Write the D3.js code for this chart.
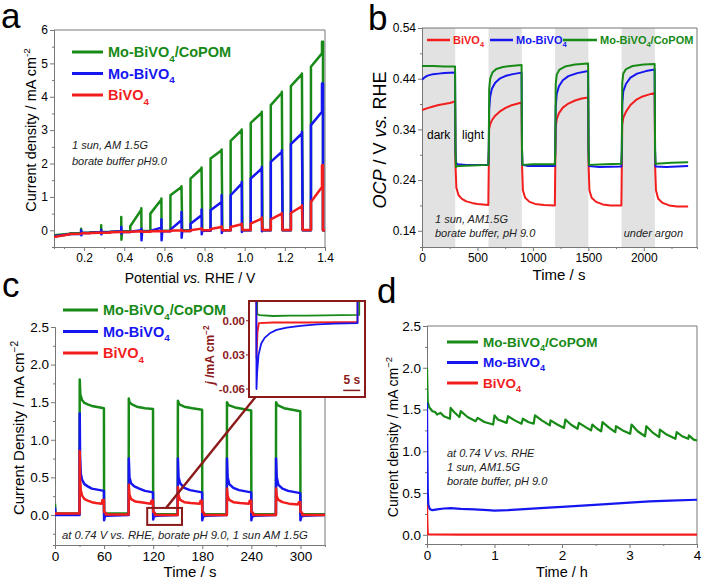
<!DOCTYPE html>
<html>
<head>
<meta charset="utf-8">
<script src="https://cdn.jsdelivr.net/npm/d3@7"></script>
<style>
body{margin:0;background:#fff;}
svg{font-family:"Liberation Sans",Arial,sans-serif;}
</style>
</head>
<body>
<svg id="fig" width="702" height="582"></svg>
<script>
// ---------- panel a : chopped LSV ----------
var aOn  = [0.13,0.23,0.33,0.43,0.53,0.63,0.73,0.83,0.93,1.03,1.13,1.23,1.33];
var aOff = [0.185,0.285,0.385,0.485,0.585,0.685,0.785,0.885,0.985,1.085,1.185,1.285,1.385];
var aEnd = 1.39;
var aGreenBase  = [-0.1,-0.07,-0.05,-0.03,-0.02,-0.01,0,0,0,0,0,0,0];
var aGreenOn    = [-0.09,-0.06,-0.04,0.12,0.5,1.05,1.55,2.15,2.68,3.22,3.75,4.32,4.9];
var aGreenOff   = [-0.08,-0.05,-0.03,0.62,0.92,1.3,1.85,2.4,3.0,3.52,4.12,4.68,5.3];
var aGreenSpike = [0.05,0.15,0.4,0.66,0.95,1.32,1.88,2.42,3.02,3.55,4.15,4.7,5.65];
var aGreenDip   = [-0.12,-0.1,-0.28,-0.1,-0.05,0,0,0,0,0,0,0,0];
var aBlueBase   = [-0.12,-0.08,-0.06,-0.05,-0.04,-0.03,-0.02,-0.01,0,0,0,0,0];
var aBlueOn     = [-0.11,-0.07,-0.05,-0.04,-0.02,0.02,0.2,0.6,1.05,1.55,2.05,2.58,3.15];
var aBlueOff    = [-0.1,-0.06,-0.03,0.0,0.08,0.3,0.45,0.85,1.4,1.85,2.35,2.9,3.55];
var aBlueSpike  = [0.0,0.02,0.1,0.05,0.33,0.55,0.62,1.05,1.45,1.9,2.4,2.95,4.4];
var aBlueDip    = [-0.15,-0.12,-0.1,-0.3,-0.3,-0.22,-0.12,-0.08,-0.05,-0.03,0,0,0];
var aRedBase    = [-0.12,-0.09,-0.07,-0.05,-0.04,-0.03,-0.02,0,0,0.01,0.01,0.01,0.01];
var aRedOn      = [-0.11,-0.08,-0.06,-0.04,-0.03,-0.01,0.0,0.04,0.1,0.2,0.33,0.52,0.85];
var aRedOff     = [-0.1,-0.07,-0.05,-0.03,-0.02,0.0,0.05,0.1,0.18,0.35,0.5,0.72,1.3];
var aRedSpike   = [-0.1,-0.07,-0.05,-0.03,-0.02,0.02,0.06,0.12,0.2,0.38,0.52,0.75,1.95];
var aStart = [-0.15,-0.18,-0.2];   // green, blue, red at 0.05 V

// ---------- panel b : OCP ----------
var bDark = [[0,300],[600,900],[1200,1500],[1800,2100]];
var bRed = [[0,0.378],[50,0.382],[100,0.385],[150,0.388],[200,0.39],[250,0.392],[298,0.395],
  [302,0.27],[310,0.225],[330,0.21],[360,0.203],[400,0.198],[450,0.195],[500,0.193],[550,0.192],[598,0.191],
  [602,0.265],[605,0.34],[615,0.35],[630,0.358],[660,0.367],[700,0.375],[750,0.382],[800,0.387],[850,0.39],[898,0.393],
  [902,0.27],[910,0.22],[930,0.205],[970,0.197],[1020,0.193],[1100,0.191],[1198,0.19],
  [1202,0.27],[1206,0.345],[1215,0.36],[1235,0.372],[1270,0.383],[1320,0.391],[1380,0.397],[1440,0.401],[1498,0.403],
  [1502,0.27],[1510,0.22],[1530,0.205],[1570,0.197],[1630,0.192],[1700,0.19],[1798,0.19],
  [1802,0.27],[1806,0.35],[1815,0.363],[1840,0.375],[1880,0.388],[1930,0.398],[1990,0.405],[2050,0.409],[2098,0.412],
  [2102,0.27],[2110,0.22],[2130,0.203],[2170,0.195],[2230,0.19],[2300,0.188],[2400,0.188]];
var bBlue = [[0,0.438],[20,0.442],[50,0.446],[100,0.449],[150,0.45],[200,0.451],[298,0.452],
  [302,0.3],[306,0.275],[320,0.271],[400,0.27],[500,0.27],[598,0.27],
  [602,0.3],[606,0.38],[615,0.405],[630,0.42],[660,0.432],[700,0.44],[760,0.446],[820,0.449],[898,0.452],
  [902,0.3],[906,0.27],[950,0.268],[1050,0.268],[1198,0.268],
  [1202,0.3],[1206,0.385],[1215,0.41],[1235,0.425],[1270,0.437],[1320,0.445],[1400,0.451],[1498,0.455],
  [1502,0.3],[1506,0.268],[1600,0.266],[1798,0.267],
  [1802,0.3],[1806,0.39],[1815,0.415],[1840,0.43],[1880,0.442],[1940,0.45],[2020,0.455],[2098,0.458],
  [2102,0.3],[2106,0.267],[2200,0.266],[2300,0.267],[2400,0.268]];
var bGreen = [[0,0.465],[100,0.465],[200,0.464],[298,0.464],
  [302,0.3],[306,0.266],[330,0.268],[450,0.269],[598,0.27],
  [602,0.3],[606,0.42],[615,0.44],[635,0.452],[670,0.459],[730,0.463],[800,0.465],[898,0.467],
  [902,0.3],[906,0.27],[1000,0.271],[1198,0.271],
  [1202,0.3],[1206,0.43],[1215,0.448],[1240,0.458],[1290,0.464],[1380,0.468],[1498,0.47],
  [1502,0.3],[1506,0.27],[1650,0.271],[1798,0.272],
  [1802,0.3],[1806,0.432],[1815,0.45],[1840,0.459],[1900,0.465],[2000,0.468],[2098,0.469],
  [2102,0.3],[2106,0.272],[2250,0.274],[2400,0.275]];

// ---------- panel c : chopped chronoamperometry ----------
var cGreen = [[0,0.15],[0.5,0.02],[30,0.02],[30.2,1.8],[31,1.6],[33,1.53],[36,1.49],[40,1.47],[45,1.45],[50,1.44],[55,1.43],[59.8,1.42],
  [60,0.02],[90,0.02],[90.2,1.55],[91,1.5],[94,1.47],[100,1.44],[110,1.42],[119.8,1.41],
  [120,0.01],[150,0.01],[150.2,1.52],[152,1.47],[158,1.44],[168,1.42],[179.8,1.4],
  [180,0.01],[210,0.01],[210.2,1.5],[212,1.46],[220,1.43],[230,1.41],[239.8,1.39],
  [240,0.01],[270,0.01],[270.2,1.5],[272,1.46],[280,1.42],[290,1.4],[299.8,1.38],[300,0.01],[330,0.01]];
var cBlue = [[0,0.1],[0.5,0.0],[30,0.0],[30.2,1.35],[30.6,0.8],[31.5,0.55],[33,0.47],[36,0.41],[40,0.38],[45,0.35],[50,0.34],[55,0.33],[59.8,0.32],
  [60,-0.07],[61,-0.02],[63,-0.01],[90,0.0],[90.2,0.75],[91,0.5],[93,0.42],[97,0.38],[103,0.35],[110,0.32],[119.8,0.3],
  [120,-0.06],[121,-0.02],[124,-0.01],[150,0.0],[150.2,0.75],[151,0.5],[153,0.42],[158,0.36],[165,0.33],[179.8,0.3],
  [180,-0.07],[181,-0.02],[184,-0.01],[210,0.0],[210.2,0.75],[211,0.5],[213,0.41],[218,0.36],[225,0.33],[239.8,0.3],
  [240,-0.07],[241,-0.02],[244,-0.01],[270,0.0],[270.2,0.75],[271,0.5],[273,0.4],[278,0.35],[285,0.32],[299.8,0.29],
  [300,-0.07],[301,-0.02],[304,-0.01],[330,0.0]];
var cRed = [[0,0.02],[30,0.02],[30.2,0.85],[30.6,0.5],[31.5,0.33],[33,0.26],[36,0.21],[40,0.19],[45,0.17],[50,0.16],[57,0.15],[58,0.2],[59.8,0.2],
  [60,0.04],[62,0.03],[62.2,0.005],[90,0.005],[90.2,0.4],[91,0.27],[93,0.21],[98,0.18],[105,0.17],[117,0.15],[118,0.19],[119.8,0.19],
  [120,0.04],[122,0.03],[122.2,0.0],[150,0.0],[150.2,0.37],[151,0.26],[153,0.2],[158,0.17],[166,0.16],[177,0.15],[178,0.19],[179.8,0.19],
  [180,0.04],[182,0.03],[182.2,0.0],[210,0.0],[210.2,0.35],[211,0.25],[213,0.2],[218,0.17],[226,0.16],[237,0.15],[238,0.19],[239.8,0.19],
  [240,0.04],[242,0.03],[242.2,0.0],[270,0.0],[270.2,0.35],[271,0.25],[273,0.2],[278,0.17],[286,0.15],[297,0.14],[298,0.17],[299.8,0.17],
  [300,0.04],[302,0.03],[302.2,0.0],[330,0.0]];
// inset (zoom of the dark period 120-150 s)
var iGreen = [[117.9,1.41],[120.2,1.41],[120.3,0.006],[121,0.005],[125,0.0042],[130,0.0045],[135,0.0045],[140,0.0048],[145,0.005],[150.3,0.0052],[150.6,1.5]];
var iBlue = [[117.9,0.3],[119.9,0.3],[120.1,-0.06],[120.3,-0.045],[120.7,-0.03],[121.5,-0.02],[122.5,-0.015],[124,-0.011],[126,-0.008],
  [129,-0.006],[133,-0.0045],[138,-0.0032],[143,-0.0025],[149.8,-0.002],[150,0.75]];
var iRed = [[117.9,0.15],[119.9,0.15],[120.1,-0.033],[120.4,-0.01],[120.8,-0.002],[125,-0.0015],[135,-0.0015],[145,-0.0012],[149.8,-0.0012],[150,0.35]];
var iTicks = [0, -0.03, -0.06];
var iTickLabels = ["0.00", "0.03", "-0.06"];
var cZoomBox = [112.7, 155.2, -0.133, 0.093];      // t0, t1, j0, j1
var cArrow = [[135.7, 0.093], [257, 1.73]];

// ---------- panel d : stability ----------
var dGreen = [[0,2.0],[0.01,1.6],[0.03,1.53],[0.08,1.48],[0.12,1.47],[0.15,1.44],[0.2,1.46],[0.25,1.42],[0.34,1.39],[0.35,1.52],[0.4,1.47],[0.48,1.41],
  [0.5,1.48],[0.6,1.41],[0.72,1.36],[0.75,1.4],[0.85,1.35],[0.98,1.32],[1.0,1.43],[1.05,1.38],[1.18,1.34],[1.2,1.42],[1.3,1.37],[1.4,1.33],
  [1.42,1.39],[1.5,1.35],[1.58,1.33],[1.6,1.43],[1.7,1.37],[1.82,1.31],[1.83,1.37],[1.93,1.32],[2.03,1.28],[2.05,1.38],[2.13,1.32],[2.23,1.27],
  [2.25,1.34],[2.35,1.29],[2.43,1.25],[2.45,1.32],[2.52,1.27],[2.58,1.24],[2.6,1.35],[2.7,1.28],[2.79,1.23],[2.8,1.3],[2.9,1.25],[3.01,1.21],
  [3.03,1.32],[3.12,1.24],[3.23,1.18],[3.25,1.3],[3.35,1.22],[3.44,1.17],[3.45,1.26],[3.55,1.2],[3.68,1.15],[3.7,1.23],[3.78,1.18],[3.87,1.15],
  [3.88,1.19],[3.95,1.14],[4.0,1.13]];
var dBlue = [[0,1.58],[0.005,1.0],[0.012,0.5],[0.02,0.36],[0.04,0.31],[0.08,0.295],[0.15,0.305],[0.25,0.315],[0.35,0.32],[0.5,0.31],[0.7,0.305],
  [0.9,0.295],[1.0,0.29],[1.2,0.295],[1.5,0.31],[1.8,0.325],[2.0,0.335],[2.3,0.35],[2.6,0.365],[3.0,0.385],[3.3,0.4],[3.6,0.41],[4.0,0.42]];
var dRed = [[0,0.35],[0.005,0.15],[0.01,0.02],[0.02,0.005],[0.5,0.003],[1,0.002],[2,0.002],[3,0.002],[4,0.002]];

var GREEN = "#178a17", BLUE = "#1616f0", RED = "#f21d1d", DRED = "#8b1a1a", AX = "#777";
var svg = d3.select("#fig");

var name1 = [["Mo-BiVO",0],["4",1],["/CoPOM",0]];
var name2 = [["Mo-BiVO",0],["4",1]];
var name3 = [["BiVO",0],["4",1]];

// text with sub/superscript parts: [str, 0 normal | 1 sub | 2 super | 3 italic]
function rich(t, parts, size) {
  var shift = 0;
  parts.forEach(function(p) {
    var ts = t.append("tspan").text(p[0]);
    var target = p[1] == 1 ? size * 0.3 : (p[1] == 2 ? -size * 0.4 : 0);
    if (target != shift) { ts.attr("dy", target - shift); shift = target; }
    if (p[1] == 1 || p[1] == 2) ts.attr("font-size", size * 0.68);
    if (p[1] == 3) ts.attr("font-style", "italic");
  });
  return t;
}

function axes(g, x, y, o) {
  var x0 = x.range()[0], x1 = x.range()[1], y0 = y.range()[0], y1 = y.range()[1];
  g.append("g").attr("transform", "translate(0," + y0 + ")")
    .call(d3.axisBottom(x).tickValues(o.xMinor).tickSize(2).tickFormat(""));
  g.append("g").attr("transform", "translate(" + x0 + ",0)")
    .call(d3.axisLeft(y).tickValues(o.yMinor).tickSize(2).tickFormat(""));
  g.append("g").attr("transform", "translate(0," + y0 + ")")
    .call(d3.axisBottom(x).tickValues(o.xTicks).tickFormat(o.xFmt).tickSize(4).tickSizeOuter(0))
    .selectAll("text").attr("font-size", o.fs).attr("dy", "0.72em").attr("y", 6);
  g.append("g").attr("transform", "translate(" + x0 + ",0)")
    .call(d3.axisLeft(y).tickValues(o.yTicks).tickFormat(o.yFmt).tickSize(4).tickSizeOuter(0))
    .selectAll("text").attr("font-size", o.fs).attr("x", -6);
  g.selectAll(".domain, .tick line").attr("stroke", AX);
  g.selectAll(".tick text").attr("fill", "#000").attr("font-family", "Liberation Sans, Arial, sans-serif");
  if (o.top) g.append("line").attr("x1", x0).attr("x2", x1).attr("y1", y1).attr("y2", y1).attr("stroke", AX);
  g.append("line").attr("x1", x1).attr("x2", x1).attr("y1", y1).attr("y2", y0).attr("stroke", AX);
}

function legend(g, items, x, y, dy, len, fs) {
  items.forEach(function(it, i) {
    g.append("line").attr("x1", x).attr("x2", x + len).attr("y1", y + i * dy).attr("y2", y + i * dy)
      .attr("stroke", it[1]).attr("stroke-width", 3);
    rich(g.append("text").attr("x", x + len + 5).attr("y", y + i * dy + fs * 0.36)
      .attr("font-size", fs).attr("font-weight", "bold").attr("fill", it[1]), it[0], fs);
  });
}

function clip(id, x, y) {
  svg.append("clipPath").attr("id", id).append("rect")
    .attr("x", x.range()[0]).attr("y", y.range()[1])
    .attr("width", x.range()[1] - x.range()[0]).attr("height", y.range()[0] - y.range()[1]);
}

function series(g, data, x, y, col, w, clipId) {
  g.append("path").datum(data).attr("clip-path", "url(#" + clipId + ")")
    .attr("d", d3.line().x(function(d){return x(d[0]);}).y(function(d){return y(d[1]);}))
    .attr("fill", "none").attr("stroke", col).attr("stroke-width", w).attr("stroke-linejoin", "round");
}

function ytitle(g, parts, cx, cy, fs) {
  rich(g.append("text").attr("transform", "translate(" + cx + "," + cy + ") rotate(-90)")
    .attr("text-anchor", "middle").attr("font-size", fs), parts, fs);
}
function xtitle(g, parts, cx, cy, fs) {
  rich(g.append("text").attr("x", cx).attr("y", cy).attr("text-anchor", "middle").attr("font-size", fs), parts, fs);
}
function note(g, lines, x, y, lh, fs) {
  lines.forEach(function(s, i) {
    g.append("text").attr("x", x).attr("y", y + i * lh).attr("font-size", fs)
      .attr("font-style", "italic").attr("fill", "#222").text(s);
  });
}
function letter(t, x, y) {
  svg.append("text").attr("x", x).attr("y", y).attr("font-size", 35).text(t);
}

// build the chopped LSV path from the pulse arrays
function chopped(start, base, on, off, spike, dip) {
  var pts = [[0.05, start]];
  aOn.forEach(function(v, i) {
    pts.push([v, base[i]], [v, on[i]], [aOff[i], off[i]]);
    if (spike[i] > off[i]) pts.push([aOff[i], spike[i]]);
    if (i == aOn.length - 1) { pts.push([aEnd, spike[i]], [aEnd, 0], [1.4, 0]); return; }
    if (dip && dip[i] < base[i + 1]) pts.push([aOff[i] + 0.001, dip[i]]);
    pts.push([aOff[i] + 0.004, base[i + 1]]);
  });
  return pts;
}

// ================= panel a =================
var ga = svg.append("g");
var xa = d3.scaleLinear().domain([0.05, 1.4]).range([54, 325]);
var ya = d3.scaleLinear().domain([-0.5, 6]).range([247, 30]);
clip("ca", xa, ya);
axes(ga, xa, ya, {xTicks: [0.2,0.4,0.6,0.8,1.0,1.2,1.4], xFmt: d3.format(".1f"), xMinor: [0.1,0.3,0.5,0.7,0.9,1.1,1.3],
  yTicks: [0,1,2,3,4,5,6], yFmt: d3.format("d"), yMinor: [-0.5,0.5,1.5,2.5,3.5,4.5,5.5], fs: 12, top: true});
series(ga, chopped(aStart[0], aGreenBase, aGreenOn, aGreenOff, aGreenSpike, aGreenDip), xa, ya, GREEN, 2.5, "ca");
series(ga, chopped(aStart[1], aBlueBase, aBlueOn, aBlueOff, aBlueSpike, aBlueDip), xa, ya, BLUE, 2.5, "ca");
series(ga, chopped(aStart[2], aRedBase, aRedOn, aRedOff, aRedSpike, null), xa, ya, RED, 2.5, "ca");
legend(ga, [[name1, GREEN], [name2, BLUE], [name3, RED]], 72, 52, 21.5, 31, 14.5);
note(ga, ["1 sun, AM 1.5G", "borate buffer pH9.0"], 72, 149, 16, 11);
ytitle(ga, [["Current density / mA cm",0],["-2",2]], 36, 130, 14.5);
xtitle(ga, [["Potential ",0],["vs.",3],[" RHE / V",0]], 190, 283, 14);
letter("a", 1, 28);

// ================= panel b =================
var gb = svg.append("g");
var xb = d3.scaleLinear().domain([0, 2480]).range([422, 697]);
var yb = d3.scaleLinear().domain([0.108, 0.54]).range([247, 28]);
clip("cb", xb, yb);
gb.selectAll("rect.dark").data(bDark).enter().append("rect").attr("class", "dark")
  .attr("x", function(d){return xb(d[0]);}).attr("width", function(d){return xb(d[1]) - xb(d[0]);})
  .attr("y", yb(0.54)).attr("height", yb(0.108) - yb(0.54)).attr("fill", "#e2e2e2");
axes(gb, xb, yb, {xTicks: [0,500,1000,1500,2000], xFmt: d3.format("d"), xMinor: [250,750,1250,1750,2250],
  yTicks: [0.14,0.24,0.34,0.44,0.54], yFmt: d3.format(".2f"), yMinor: [0.19,0.29,0.39,0.49], fs: 12, top: true});
series(gb, bRed, xb, yb, RED, 2, "cb");
series(gb, bBlue, xb, yb, BLUE, 2, "cb");
series(gb, bGreen, xb, yb, GREEN, 2, "cb");
[[name3, RED, 427, 23], [name2, BLUE, 490, 23], [name1, GREEN, 563, 34]].forEach(function(it) {
  gb.append("line").attr("x1", it[2]).attr("x2", it[2] + it[3]).attr("y1", 40).attr("y2", 40)
    .attr("stroke", it[1]).attr("stroke-width", 2.5);
  rich(gb.append("text").attr("x", it[2] + it[3] + 3).attr("y", 44).attr("font-size", 11)
    .attr("font-weight", "bold").attr("fill", it[1]), it[0], 11);
});
gb.append("text").attr("x", 427).attr("y", 139).attr("font-size", 12).text("dark");
gb.append("text").attr("x", 462).attr("y", 139).attr("font-size", 12).text("light");
note(gb, ["1 sun, AM1.5G", "borate buffer, pH 9.0"], 435, 223, 14, 11);
gb.append("text").attr("x", 683).attr("y", 237).attr("text-anchor", "end").attr("font-size", 11)
  .attr("font-style", "italic").attr("fill", "#222").text("under argon");
ytitle(gb, [["OCP",3],[" / V ",0],["vs.",3],[" RHE",0]], 386, 140, 18);
xtitle(gb, [["Time / s",0]], 559, 280, 15);
letter("b", 368, 30);

// ================= panel c =================
var gc = svg.append("g");
var xc = d3.scaleLinear().domain([0, 330]).range([55, 325]);
var yc = d3.scaleLinear().domain([-0.4, 2.5]).range([545, 327]);
clip("cc", xc, yc);
axes(gc, xc, yc, {xTicks: [0,60,120,180,240,300], xFmt: d3.format("d"), xMinor: [30,90,150,210,270],
  yTicks: [0,0.5,1,1.5,2,2.5], yFmt: d3.format(".1f"), yMinor: [-0.25,0.25,0.75,1.25,1.75,2.25], fs: 13.5, top: false});
series(gc, cGreen, xc, yc, GREEN, 2.5, "cc");
series(gc, cBlue, xc, yc, BLUE, 2.5, "cc");
series(gc, cRed, xc, yc, RED, 2.5, "cc");
note(gc, ["at 0.74 V vs. RHE, borate pH 9.0, 1 sun AM 1.5G"], 62, 539, 0, 11.3);
legend(gc, [[name1, GREEN], [name2, BLUE], [name3, RED]], 63, 310, 21.5, 35, 14.5);
gc.append("rect").attr("x", xc(cZoomBox[0])).attr("width", xc(cZoomBox[1]) - xc(cZoomBox[0]))
  .attr("y", yc(cZoomBox[3])).attr("height", yc(cZoomBox[2]) - yc(cZoomBox[3]))
  .attr("fill", "none").attr("stroke", DRED).attr("stroke-width", 2);
svg.append("marker").attr("id", "head").attr("viewBox", "0 0 10 10").attr("refX", 8).attr("refY", 5)
  .attr("markerWidth", 5).attr("markerHeight", 5).attr("orient", "auto")
  .append("path").attr("d", "M0,0L10,5L0,10z").attr("fill", DRED);
gc.append("line").attr("x1", xc(cArrow[0][0])).attr("y1", yc(cArrow[0][1]))
  .attr("x2", xc(cArrow[1][0])).attr("y2", yc(cArrow[1][1]))
  .attr("stroke", DRED).attr("stroke-width", 2.5).attr("marker-end", "url(#head)");
ytitle(gc, [["Current Density / mA cm",0],["\u22122",2]], 24, 428, 15);
xtitle(gc, [["Time / s",0]], 190, 577, 15);
letter("c", 2, 297);

// inset
var gi = svg.append("g");
var xi = d3.scaleLinear().domain([117.9, 152]).range([249, 365]);
var yi = d3.scaleLinear().domain([-0.067, 0.0174]).range([397, 301]);
clip("ci", xi, yi);
gi.append("rect").attr("x", 249).attr("y", 301).attr("width", 116).attr("height", 96).attr("fill", "#fff");
series(gi, iGreen, xi, yi, GREEN, 1.8, "ci");
series(gi, iRed, xi, yi, RED, 1.8, "ci");
series(gi, iBlue, xi, yi, BLUE, 1.8, "ci");
gi.append("rect").attr("x", 249).attr("y", 301).attr("width", 116).attr("height", 96)
  .attr("fill", "none").attr("stroke", DRED).attr("stroke-width", 2);
gi.selectAll("text.it").data(iTicks).enter().append("text").attr("class", "it")
  .attr("x", 245).attr("y", function(d){return yi(d) + 4;}).attr("text-anchor", "end")
  .attr("font-size", 11.5).attr("font-weight", "bold").attr("fill", DRED)
  .text(function(d, i){return iTickLabels[i];});
gi.selectAll("line.it").data(iTicks).enter().append("line").attr("class", "it")
  .attr("x1", 249).attr("x2", 246).attr("y1", function(d){return yi(d);}).attr("y2", function(d){return yi(d);})
  .attr("stroke", DRED);
rich(gi.append("text").attr("transform", "translate(214,355) rotate(-90)").attr("text-anchor", "middle")
  .attr("font-size", 12).attr("font-weight", "bold").attr("fill", DRED),
  [["j",3],[" /mA cm",0],["\u22122",2]], 12);
gi.append("line").attr("x1", xi(145.6)).attr("x2", xi(150.6)).attr("y1", yi(-0.0612)).attr("y2", yi(-0.0612))
  .attr("stroke", DRED).attr("stroke-width", 1.5);
gi.append("text").attr("x", xi(148.1)).attr("y", yi(-0.0555)).attr("text-anchor", "middle")
  .attr("font-size", 12).attr("font-weight", "bold").attr("fill", DRED).text("5 s");

// ================= panel d =================
var gd = svg.append("g");
var xd = d3.scaleLinear().domain([0, 4]).range([427, 697]);
var yd = d3.scaleLinear().domain([-0.11, 2.5]).range([544, 326]);
clip("cd", xd, yd);
axes(gd, xd, yd, {xTicks: [0,1,2,3,4], xFmt: d3.format("d"), xMinor: [0.5,1.5,2.5,3.5],
  yTicks: [0,0.5,1,1.5,2,2.5], yFmt: d3.format(".1f"), yMinor: [0.25,0.75,1.25,1.75,2.25], fs: 13.5, top: true});
series(gd, dGreen, xd, yd, GREEN, 2.2, "cd");
series(gd, dBlue, xd, yd, BLUE, 2.2, "cd");
series(gd, dRed, xd, yd, RED, 2.2, "cd");
legend(gd, [[name1, GREEN], [name2, BLUE], [name3, RED]], 447, 342, 20.5, 31, 13.5);
note(gd, ["at 0.74 V vs. RHE", "1 sun, AM1.5G", "borate buffer, pH 9.0"], 447, 457, 14, 11);
ytitle(gd, [["Current density / mA cm",0],["\u22122",2]], 398, 437, 14);
xtitle(gd, [["Time / h",0]], 562, 577, 14.5);
letter("d", 377, 303);
</script>
</body>
</html>
